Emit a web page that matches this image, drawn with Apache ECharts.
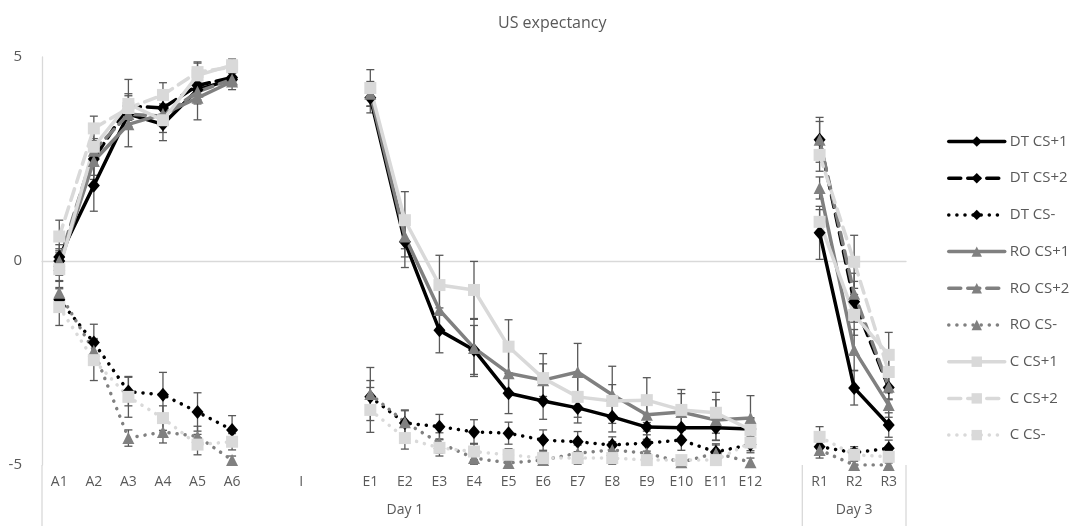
<!DOCTYPE html>
<html>
<head>
<meta charset="utf-8">
<script src="https://cdn.jsdelivr.net/npm/echarts@6/dist/echarts.min.js"></script>
<style>
  html, body { margin: 0; padding: 0; background: #fff; }
  #main { width: 1073px; height: 526px; }
</style>
</head>
<body>
<div id="main"></div>
<script>
// categories (blank slots are gaps in the Excel chart)
var categories = ['A1', 'A2', 'A3', 'A4', 'A5', 'A6', '', 'I', '',
  'E1', 'E2', 'E3', 'E4', 'E5', 'E6', 'E7', 'E8', 'E9', 'E10', 'E11', 'E12', '',
  'R1', 'R2', 'R3'];
var groupLabels = ['Day 1', 'Day 3'];

// series values
var dtCs1 = [0.1, 1.85, 3.6, 3.35, 4.2, 4.45, null, null, null,
  4.0, 0.47, -1.7, -2.18, -3.24, -3.43, -3.6, -3.82, -4.07, -4.09, -4.09, -4.12, null,
  0.69, -3.11, -4.02];
var dtCs2 = [0.0, 2.5, 3.8, 3.75, 4.3, 4.5, null, null, null,
  null, null, null, null, null, null, null, null, null, null, null, null, null,
  2.97, -1.0, -3.1];
var dtCsMinus = [-0.95, -2.0, -3.2, -3.28, -3.7, -4.14, null, null, null,
  -3.33, -3.97, -4.06, -4.19, -4.22, -4.39, -4.43, -4.51, -4.46, -4.39, -4.68, -4.5, null,
  -4.55, -4.7, -4.59];
var roCs1 = [-0.1, 2.45, 3.35, 3.6, 4.0, 4.4, null, null, null,
  4.1, 0.6, -1.2, -2.13, -2.75, -2.92, -2.72, -3.28, -3.77, -3.7, -3.9, -3.85, null,
  1.79, -2.18, -3.53];
var roCs2 = [0.0, 2.7, 3.6, 3.55, 4.15, 4.45, null, null, null,
  null, null, null, null, null, null, null, null, null, null, null, null, null,
  2.97, -0.8, -3.08];
var roCsMinus = [-0.78, -2.2, -4.34, -4.19, -4.3, -4.88, null, null, null,
  -3.26, -3.95, -4.46, -4.83, -4.95, -4.88, -4.71, -4.63, -4.71, -4.93, -4.71, -4.93, null,
  -4.63, -5.0, -5.0];
var cCs1 = [-0.2, 2.8, 3.85, 3.45, 4.55, 4.8, null, null, null,
  4.24, 1.0, -0.59, -0.71, -2.1, -2.87, -3.33, -3.43, -3.41, -3.65, -3.72, -4.14, null,
  0.96, -1.32, -2.3];
var cCs2 = [0.6, 3.25, 3.75, 4.07, 4.63, 4.75, null, null, null,
  null, null, null, null, null, null, null, null, null, null, null, null, null,
  2.6, -0.02, -2.72];
var cCsMinus = [-1.13, -2.43, -3.33, -3.85, -4.5, -4.43, null, null, null,
  -3.65, -4.34, -4.58, -4.67, -4.75, -4.83, -4.83, -4.83, -4.88, -4.88, -4.88, -4.45, null,
  -4.31, -4.75, -4.8];

// error bar half-lengths
var dtCs1Err = [0.3, 0.63, 0.35, 0.4, 0.25, 0.15, null, null, null,
  0.37, 0.63, 0.55, 0.6, 0.5, 0.45, 0.37, 0.37, 0.3, 0.3, 0.3, 0.25, null,
  0.65, 0.42, 0.3];
var dtCs2Err = [0.3, 0.4, 0.3, 0.3, 0.25, 0.15, null, null, null,
  null, null, null, null, null, null, null, null, null, null, null, null, null,
  0.55, 0.5, 0.3];
var dtCsMinusErr = [0.3, 0.45, 0.35, 0.55, 0.47, 0.35, null, null, null,
  0.4, 0.3, 0.3, 0.3, 0.27, 0.25, 0.25, 0.2, 0.2, 0.25, 0.2, 0.2, null,
  0.2, 0.15, 0.2];
var roCs1Err = [0.25, 0.45, 0.55, 0.25, 0.54, 0.2, null, null, null,
  0.3, 0.5, 0.5, 0.7, 0.55, 0.4, 0.7, 0.7, 0.4, 0.45, 0.5, 0.55, null,
  0.27, 0.5, 0.3];
var roCs2Err = [0.25, 0.3, 0.3, 0.25, 0.3, 0.15, null, null, null,
  null, null, null, null, null, null, null, null, null, null, null, null, null,
  0.45, 0.5, 0.3];
var roCsMinusErr = [0.3, 0.3, 0.2, 0.27, 0.25, 0.1, null, null, null,
  0.65, 0.3, 0.25, 0.15, 0.1, 0.1, 0.2, 0.2, 0.2, 0.1, 0.2, 0.1, null,
  0.2, 0.1, 0.1];
var cCs1Err = [0.3, 0.4, 0.6, 0.3, 0.3, 0.15, null, null, null,
  0.45, 0.7, 0.73, 0.7, 0.66, 0.6, 0.5, 0.4, 0.55, 0.5, 0.5, 0.3, null,
  0.3, 0.5, 0.55];
var cCs2Err = [0.4, 0.3, 0.3, 0.3, 0.25, 0.15, null, null, null,
  null, null, null, null, null, null, null, null, null, null, null, null, null,
  0.4, 0.65, 0.4];
var cCsMinusErr = [0.45, 0.5, 0.5, 0.3, 0.25, 0.2, null, null, null,
  0.55, 0.27, 0.2, 0.2, 0.15, 0.15, 0.15, 0.15, 0.1, 0.1, 0.15, 0.2, null,
  0.25, 0.15, 0.15];

var yTicks = [-5, 0, 5];

var BLACK = '#000000', MID = '#808080', LIGHT = '#d9d9d9';
var AXIS = '#d9d9d9', TEXT = '#595959', ERR = '#595959';
var FONT = '"Open Sans", "Noto Sans", sans-serif';

var solid = 'solid';
var dashed = [12, 7];
var dotted = [0.1, 8];

var seriesDefs = [
  { name: 'DT CS+1', data: dtCs1, err: dtCs1Err, color: BLACK, symbol: 'diamond', dash: solid },
  { name: 'DT CS+2', data: dtCs2, err: dtCs2Err, color: BLACK, symbol: 'diamond', dash: dashed },
  { name: 'DT CS-', data: dtCsMinus, err: dtCsMinusErr, color: BLACK, symbol: 'diamond', dash: dotted },
  { name: 'RO CS+1', data: roCs1, err: roCs1Err, color: MID, symbol: 'triangle', dash: solid },
  { name: 'RO CS+2', data: roCs2, err: roCs2Err, color: MID, symbol: 'triangle', dash: dashed },
  { name: 'RO CS-', data: roCsMinus, err: roCsMinusErr, color: MID, symbol: 'triangle', dash: dotted },
  { name: 'C CS+1', data: cCs1, err: cCs1Err, color: LIGHT, symbol: 'rect', dash: solid },
  { name: 'C CS+2', data: cCs2, err: cCs2Err, color: LIGHT, symbol: 'rect', dash: dashed },
  { name: 'C CS-', data: cCsMinus, err: cCsMinusErr, color: LIGHT, symbol: 'rect', dash: dotted }
];

function renderErrorBar(params, api) {
  var x = api.value(0);
  var lo = api.coord([x, api.value(1)]);
  var hi = api.coord([x, api.value(2)]);
  var cap = 4;
  var style = { stroke: ERR, lineWidth: 1.3, fill: null };
  return {
    type: 'group',
    children: [
      { type: 'line', shape: { x1: lo[0], y1: lo[1], x2: hi[0], y2: hi[1] }, style: style },
      { type: 'line', shape: { x1: lo[0] - cap, y1: lo[1], x2: lo[0] + cap, y2: lo[1] }, style: style },
      { type: 'line', shape: { x1: hi[0] - cap, y1: hi[1], x2: hi[0] + cap, y2: hi[1] }, style: style }
    ]
  };
}

var series = [];
for (var i = 0; i < seriesDefs.length; i++) {
  var def = seriesDefs[i];
  var errData = [];
  for (var j = 0; j < def.data.length; j++) {
    if (def.data[j] != null && def.err[j] != null) {
      errData.push([j, def.data[j] - def.err[j], def.data[j] + def.err[j]]);
    }
  }
  series.push({
    name: def.name + ' err',
    type: 'custom',
    renderItem: renderErrorBar,
    data: errData,
    clip: true,
    silent: true,
    z: 2
  });
  series.push({
    name: def.name,
    type: 'line',
    data: def.data,
    connectNulls: false,
    symbol: def.symbol,
    symbolSize: def.symbol === 'diamond' ? [12, 14] : 12,
    showAllSymbol: true,
    itemStyle: { color: def.color, borderWidth: 0 },
    lineStyle: { color: def.color, width: 3.5, type: def.dash, cap: 'round' },
    emphasis: { disabled: true },
    z: 3
  });
}

var chart = echarts.init(document.getElementById('main'), null, { renderer: 'canvas' });

var option = {
  animation: false,
  backgroundColor: '#ffffff',
  textStyle: { fontFamily: FONT },
  title: {
    text: 'US expectancy',
    left: 493,
    top: 10,
    textStyle: { fontFamily: FONT, fontSize: 16, fontWeight: 'normal', color: TEXT }
  },
  legend: {
    orient: 'vertical',
    left: 942,
    top: 129,
    itemWidth: 56,
    itemHeight: 13,
    itemGap: 21.7,
    data: seriesDefs.map(function (d) { return d.name; }),
    lineStyle: { width: 'inherit' },
    textStyle: { fontFamily: FONT, fontSize: 15, color: TEXT },
    selectedMode: false
  },
  grid: { left: 42, right: 167, top: 57, bottom: 61, containLabel: false },
  xAxis: {
    type: 'category',
    data: categories,
    boundaryGap: true,
    axisLine: { lineStyle: { color: AXIS, width: 1.3 } },
    axisTick: { show: false },
    axisLabel: { interval: 0, color: TEXT, fontSize: 14, fontFamily: FONT, margin: 10 },
    splitLine: { show: false }
  },
  yAxis: {
    type: 'value',
    min: yTicks[0],
    max: yTicks[yTicks.length - 1],
    interval: 5,
    axisLine: { show: true, lineStyle: { color: AXIS, width: 1.3 } },
    axisTick: { show: false },
    splitLine: { show: false },
    axisLabel: { color: TEXT, fontSize: 15, fontFamily: FONT, margin: 20 }
  },
  series: series
};
chart.setOption(option);

// multi-level category labels and separators under the axis
var px = function (idx) { return chart.convertToPixel({ xAxisIndex: 0 }, idx); };
var step = px(1) - px(0);
var axisY = chart.convertToPixel({ yAxisIndex: 0 }, yTicks[0]);
var leftEdge = px(0) - step / 2;
var rightEdge = px(categories.length - 1) + step / 2;
var splitX = (px(21) + px(22)) / 2;
var sepStyle = { stroke: AXIS, lineWidth: 1.3 };
chart.setOption({
  graphic: [
    { type: 'line', shape: { x1: leftEdge, y1: axisY, x2: leftEdge, y2: 526 }, style: sepStyle, silent: true },
    { type: 'line', shape: { x1: splitX, y1: axisY, x2: splitX, y2: 526 }, style: sepStyle, silent: true },
    { type: 'line', shape: { x1: rightEdge, y1: axisY, x2: rightEdge, y2: 526 }, style: sepStyle, silent: true },
    { type: 'text', x: (px(0) + px(20)) / 2, y: axisY + 45, silent: true,
      style: { text: groupLabels[0], fill: TEXT, font: '14px ' + FONT, textAlign: 'center', textVerticalAlign: 'middle' } },
    { type: 'text', x: px(23), y: axisY + 45, silent: true,
      style: { text: groupLabels[1], fill: TEXT, font: '14px ' + FONT, textAlign: 'center', textVerticalAlign: 'middle' } }
  ]
});
</script>
</body>
</html>
